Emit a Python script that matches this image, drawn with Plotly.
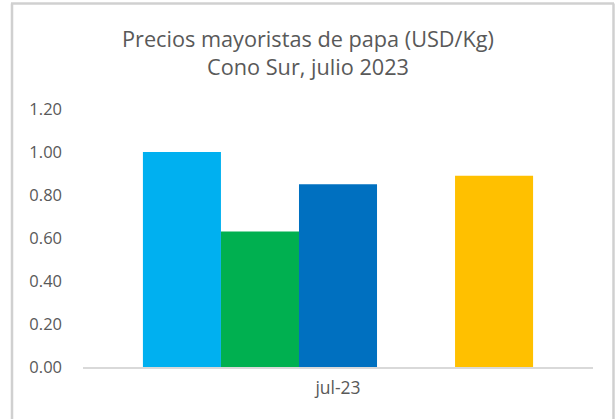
import plotly.graph_objects as go

categories = ["jul-23"]
serie_1 = [1.00]
serie_2 = [0.63]
serie_3 = [0.85]
serie_4 = [None]
serie_5 = [0.89]
series_names = ["Serie 1", "Serie 2", "Serie 3", "Serie 4", "Serie 5"]
series_colors = ["#00B0F0", "#00B050", "#0070C0", "#7F7F7F", "#FFC000"]
y_ticks = [0.0, 0.2, 0.4, 0.6, 0.8, 1.0, 1.2]

fig = go.Figure()
for name, vals, col in zip(series_names, [serie_1, serie_2, serie_3, serie_4, serie_5], series_colors):
    fig.add_trace(go.Bar(x=categories, y=vals, name=name, marker=dict(color=col, line=dict(width=0))))

W, H = 616, 419
L, R, T, B = 83, 23, 109, 52
pw, ph = W - L - R, H - T - B

def px(x):
    return (x - L) / pw

def py(y):
    return (H - B - y) / ph

border = dict(color="#D0D0D0", width=2.5)
fig.update_layout(
    width=W, height=H,
    margin=dict(l=L, r=R, t=T, b=B, autoexpand=False),
    paper_bgcolor="white", plot_bgcolor="white",
    barmode="group", bargap=0.235, bargroupgap=0,
    showlegend=False,
    font=dict(family="Open Sans", color="#595959", size=16),
    title=dict(
        text="Precios mayoristas de papa (USD/Kg)<br>Cono Sur, julio 2023",
        x=0.5, xanchor="center", y=1 - 47 / H, yanchor="top",
        font=dict(size=21.7, color="#595959", family="Open Sans"),
    ),
    xaxis=dict(showline=True, linecolor="#D9D9D9", linewidth=1.5, ticks="",
               automargin=False, ticklabelstandoff=4,
               tickfont=dict(size=17.5, color="#595959")),
    yaxis=dict(range=[0, 1.2], tickvals=y_ticks, tickformat=".2f", showgrid=False,
               zeroline=False, showline=False, ticks="", ticklabelstandoff=20,
               automargin=False,
               tickfont=dict(size=16.5, color="#595959")),
    shapes=[
        dict(type="line", xref="paper", yref="paper", x0=px(11), x1=px(614), y0=py(3.5), y1=py(3.5), line=border),
        dict(type="line", xref="paper", yref="paper", x0=px(12), x1=px(12), y0=py(3.5), y1=py(425), line=border),
        dict(type="line", xref="paper", yref="paper", x0=px(613.5), x1=px(613.5), y0=py(3.5), y1=py(425), line=border),
    ],
)

fig.write_html("out.html", config={"displayModeBar": False},
               post_script="document.body.style.margin='0';")
